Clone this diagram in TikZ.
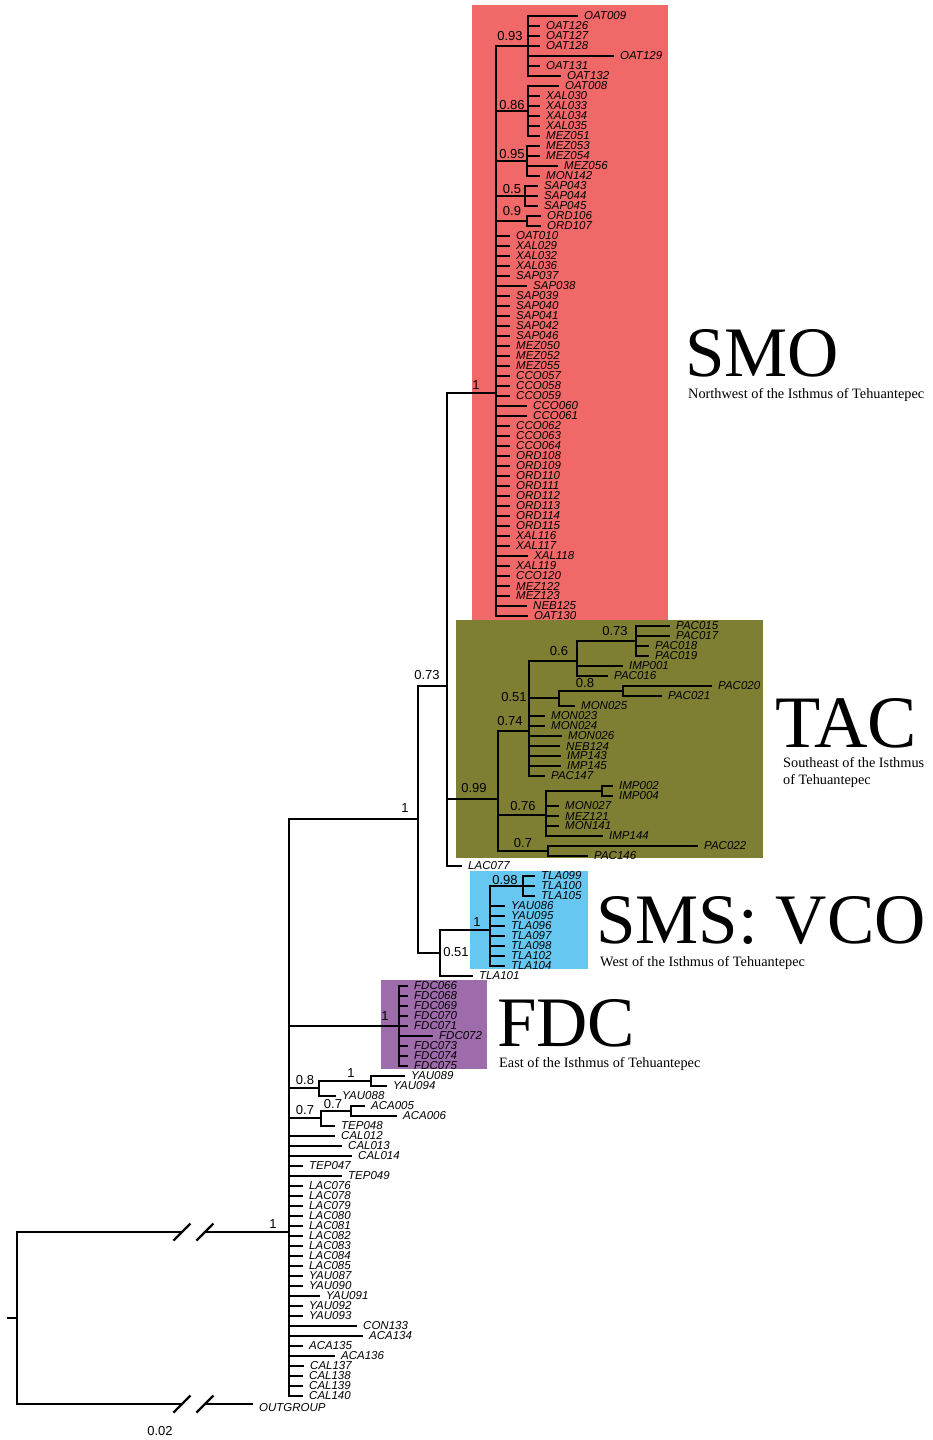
\documentclass[tikz,border=0pt]{standalone}
\usepackage{fontspec}
\setmainfont{Liberation Serif}
\newfontfamily\lsans{Liberation Sans}
\usetikzlibrary{positioning, calc}
\definecolor{csmo}{HTML}{F06868}
\definecolor{ctac}{HTML}{7F7F33}
\definecolor{cvco}{HTML}{66C8F0}
\definecolor{cfdc}{HTML}{9E6CAA}
\newcommand\tipfont{\lsans\itshape\fontsize{11.5}{13}\selectfont}
\newcommand\supfont{\lsans\fontsize{13}{15}\selectfont}
\newcommand\cladefont{\fontsize{71}{72}\selectfont}
\newcommand\regionfont{\fontsize{14.3}{16}\selectfont}

\begin{document}
\begin{tikzpicture}[
  x=1pt, y=-1pt,
  br/.style={line width=2.2pt},
  leaf/.style={font=\tipfont, inner sep=0pt},
  sup/.style={font=\supfont, inner sep=0pt},
  clade/.style={font=\cladefont, inner sep=0pt, text depth=0pt, anchor=base west},
  region/.style={font=\regionfont, inner sep=0pt, anchor=base west},
]
\useasboundingbox (0,0) rectangle (932,1440);
% Clade boxes
\fill[csmo] (472,5) rectangle (668,620);
\fill[ctac] (456,620) rectangle (763,858);
\fill[cvco] (470,871) rectangle (588,969);
\fill[cfdc] (381,980) rectangle (487,1069);
% Internal nodes
\coordinate (stub) at (7,1318);
\coordinate (root) at (17,1318);
\coordinate (brkA) at (182,1232);
\coordinate (brkB) at (205,1232);
\coordinate (ogA) at (182,1404);
\coordinate (ogB) at (205,1404);
\coordinate (og) at (253,1404);
\coordinate (ing) at (289,1232);
\coordinate (c1) at (418,819);
\coordinate (c073) at (447,686);
\coordinate (smo) at (496,393);
\coordinate (n093) at (528,46);
\coordinate (n086) at (528,111);
\coordinate (n095) at (527,161);
\coordinate (n05) at (525,196);
\coordinate (n09) at (527,221);
\coordinate (tac) at (498,799);
\coordinate (n074) at (529,731);
\coordinate (n06) at (577,661);
\coordinate (n073) at (636,641);
\coordinate (nD) at (559,698);
\coordinate (n08) at (623,691);
\coordinate (n076) at (546,815);
\coordinate (nI) at (602,791);
\coordinate (n07t) at (548,851);
\coordinate (c051) at (440,953);
\coordinate (vco) at (490,930);
\coordinate (n098) at (523,886);
\coordinate (fdc) at (399,1026);
\coordinate (n08y) at (319,1088);
\coordinate (n1y) at (371,1081);
\coordinate (n07a) at (321,1118);
\coordinate (n07b) at (351,1111);
% Backbone
\draw[br] (stub) -- (root);
\draw[br] (root) |- (brkA);
\draw[br] (brkB) -- (ing);
\draw[br] (root) |- (ogA);
\draw[br] (ogB) -- (og);
\foreach \b in {brkA, brkB, ogA, ogB}
  \draw[br] ($(\b)+(-8.5,8.5)$) -- ($(\b)+(8.5,-8.5)$);
\node[leaf, right=6pt of og, yshift=-4pt] (lOG) {OUTGROUP};
\draw[br] (ing) |- (c1);
\draw[br] (ing) |- (fdc);
\draw[br] (ing) |- (n08y);
\draw[br] (ing) |- (n07a);
\draw[br] (c1) |- (c073);
\draw[br] (c1) |- (c051);
\draw[br] (c073) |- (smo);
\draw[br] (c073) |- (tac);
\foreach \c in {n093, n086, n095, n05, n09}
  \draw[br] (smo) |- (\c);
\foreach \c in {n074, n076, n07t}
  \draw[br] (tac) |- (\c);
\draw[br] (n074) |- (n06);
\draw[br] (n074) |- (nD);
\draw[br] (n06) |- (n073);
\draw[br] (nD) |- (n08);
\draw[br] (n076) |- (nI);
\draw[br] (c051) |- (vco);
\draw[br] (vco) |- (n098);
\draw[br] (n08y) |- (n1y);
\draw[br] (n07a) |- (n07b);
% Tips: parent/y/x/name
\foreach \p/\ty/\tx/\nm in {
  n093/16/578/OAT009, n093/26/540/OAT126, n093/36/540/OAT127, n093/46/540/OAT128,
  n093/56/614/OAT129, n093/66/540/OAT131, n093/76/561/OAT132,
  n086/86/559/OAT008, n086/96/540/XAL030, n086/106/540/XAL033, n086/116/540/XAL034,
  n086/126/540/XAL035, n086/136/540/MEZ051,
  n095/146/540/MEZ053, n095/156/540/MEZ054, n095/166/558/MEZ056, n095/176/540/MON142,
  n05/186/538/SAP043, n05/196/538/SAP044, n05/206/538/SAP045,
  n09/216/541/ORD106, n09/226/541/ORD107,
  smo/236/510/OAT010, smo/246/510/XAL029, smo/256/510/XAL032, smo/266/510/XAL036,
  smo/276/510/SAP037, smo/286/527/SAP038, smo/296/510/SAP039, smo/306/510/SAP040,
  smo/316/510/SAP041, smo/326/510/SAP042, smo/336/510/SAP046, smo/346/510/MEZ050,
  smo/356/510/MEZ052, smo/366/510/MEZ055, smo/376/510/CCO057, smo/386/510/CCO058,
  smo/396/510/CCO059, smo/406/527/CCO060, smo/416/527/CCO061, smo/426/510/CCO062,
  smo/436/510/CCO063, smo/446/510/CCO064, smo/456/510/ORD108, smo/466/510/ORD109,
  smo/476/510/ORD110, smo/486/510/ORD111, smo/496/510/ORD112, smo/506/510/ORD113,
  smo/516/510/ORD114, smo/526/510/ORD115, smo/536/510/XAL116, smo/546/510/XAL117,
  smo/556/528/XAL118, smo/566/510/XAL119, smo/576/510/CCO120, smo/586/510/MEZ122,
  smo/596/510/MEZ123, smo/606/527/NEB125, smo/616/528/OAT130,
  n073/626/670/PAC015, n073/636/670/PAC017, n073/646/649/PAC018, n073/656/649/PAC019,
  n06/666/623/IMP001, n06/676/608/PAC016,
  n08/686/712/PAC020, n08/696/662/PAC021, nD/706/575/MON025,
  n074/716/545/MON023, n074/726/545/MON024, n074/736/562/MON026, n074/746/560/NEB124,
  n074/756/561/IMP143, n074/766/561/IMP145, n074/776/545/PAC147,
  nI/786/613/IMP002, nI/796/613/IMP004,
  n076/806/559/MON027, n076/816/559/MEZ121, n076/826/559/MON141, n076/836/603/IMP144,
  n07t/846/698/PAC022, n07t/856/588/PAC146,
  c073/866/462/LAC077,
  n098/876/535/TLA099, n098/886/535/TLA100, n098/896/535/TLA105,
  vco/906/505/YAU086, vco/916/505/YAU095, vco/926/505/TLA096, vco/936/505/TLA097,
  vco/946/505/TLA098, vco/956/505/TLA102, vco/966/505/TLA104,
  c051/976/473/TLA101,
  fdc/986/408/FDC066, fdc/996/408/FDC068, fdc/1006/408/FDC069, fdc/1016/408/FDC070,
  fdc/1026/408/FDC071, fdc/1036/433/FDC072, fdc/1046/408/FDC073, fdc/1056/408/FDC074,
  fdc/1066/408/FDC075,
  n1y/1076/405/YAU089, n1y/1086/387/YAU094, n08y/1096/336/YAU088,
  n07b/1106/365/ACA005, n07b/1116/397/ACA006, n07a/1126/335/TEP048,
  ing/1136/335/CAL012, ing/1146/342/CAL013, ing/1156/352/CAL014, ing/1166/303/TEP047,
  ing/1176/342/TEP049, ing/1186/303/LAC076, ing/1196/303/LAC078, ing/1206/303/LAC079,
  ing/1216/303/LAC080, ing/1226/303/LAC081, ing/1236/303/LAC082, ing/1246/303/LAC083,
  ing/1256/303/LAC084, ing/1266/303/LAC085, ing/1276/303/YAU087, ing/1286/303/YAU090,
  ing/1296/320/YAU091, ing/1306/303/YAU092, ing/1316/303/YAU093, ing/1326/357/CON133,
  ing/1336/363/ACA134, ing/1346/303/ACA135, ing/1356/335/ACA136, ing/1366/304/CAL137,
  ing/1376/303/CAL138, ing/1386/303/CAL139, ing/1396/303/CAL140%
}{
  \coordinate (\nm) at (\tx,\ty);
  \draw[br] (\p) |- (\nm);
  \node[leaf, right=6pt of \nm] (l\nm) {\nm};
}
% Support values
\foreach \sx/\sy/\sv [count=\i] in {
  273/1224/1, 405/808/1, 427/675/0.73, 476/385/1,
  510/36/0.93, 512/105/0.86, 512/154/0.95, 512/189/0.5, 512/211/0.9,
  615/631/0.73, 559/651/0.6, 585/683/0.8, 514/697/0.51, 510/721/0.74,
  474/788/0.99, 523/806/0.76, 523/843/0.7,
  505/880/0.98, 477/922/1, 456/952/0.51,
  385/1016/1, 305/1080/0.8, 351/1073/1, 305/1110/0.7, 333/1104/0.7%
}{
  \node[sup] (s\i) at (\sx,\sy) {\sv};
}
\node[sup] (scale) at (160,1431) {0.02};
% Clade names
\node[clade] (tSMO) at (685,376) {SMO};
\node[region] (rSMO) at (688,398) {Northwest of the Isthmus of Tehuantepec};
\node[clade, font=\fontsize{74}{75}\selectfont] (tTAC) at (775,747) {TAC};
\node[region] (rTACa) at (783,767) {Southeast of the Isthmus};
\node[region] (rTACb) at (783,784) {of Tehuantepec};
\node[clade] (tVCO) at (596,943) {SMS: VCO};
\node[region] (rVCO) at (600,966) {West of the Isthmus of Tehuantepec};
\node[clade] (tFDC) at (497,1046) {FDC};
\node[region] (rFDC) at (499,1067) {East of the Isthmus of Tehuantepec};
\end{tikzpicture}
\end{document}
